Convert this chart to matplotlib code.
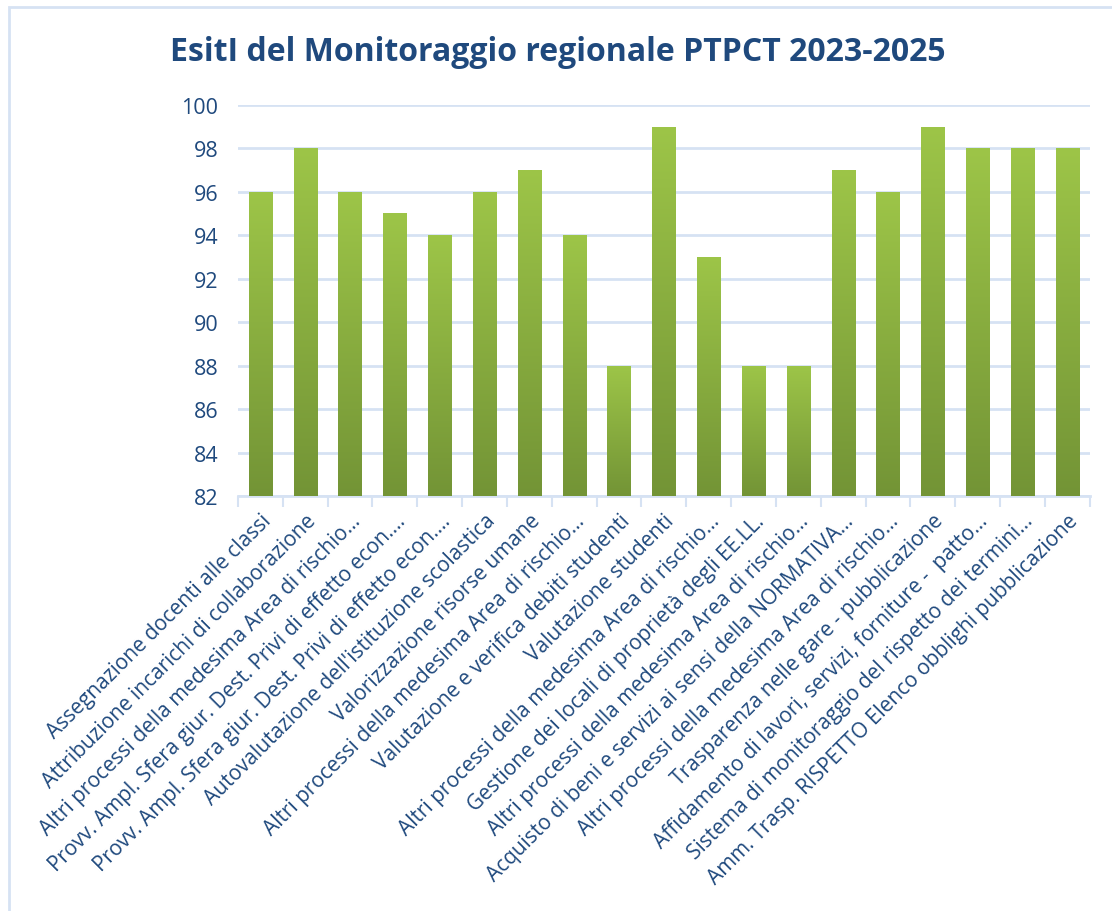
import matplotlib
matplotlib.use("Agg")
import matplotlib.pyplot as plt
import numpy as np
from matplotlib.colors import LinearSegmentedColormap
from matplotlib.patches import Rectangle

categories = [
    "Assegnazione docenti alle classi",
    "Attribuzione incarichi di collaborazione",
    "Altri processi della medesima Area di rischio…",
    "Provv. Ampl. Sfera giur. Dest. Privi di effetto econ.…",
    "Provv. Ampl. Sfera giur. Dest. Privi di effetto econ.…",
    "Autovalutazione dell'istituzione scolastica",
    "Valorizzazione risorse umane",
    "Altri processi della medesima Area di rischio…",
    "Valutazione e verifica debiti studenti",
    "Valutazione studenti",
    "Altri processi della medesima Area di rischio…",
    "Gestione dei locali di proprietà degli EE.LL.",
    "Altri processi della medesima Area di rischio…",
    "Acquisto di beni e servizi ai sensi della NORMATIVA…",
    "Altri processi della medesima Area di rischio…",
    "Trasparenza nelle gare - pubblicazione",
    "Affidamento di lavori, servizi, forniture -  patto…",
    "Sistema di monitoraggio del rispetto dei termini…",
    "Amm. Trasp. RISPETTO Elenco obblighi pubblicazione",
]
values = [96, 98, 96, 95, 94, 96, 97, 94, 88, 99, 93, 88, 88, 97, 96, 99, 98, 98, 98]
yticks = [82, 84, 86, 88, 90, 92, 94, 96, 98, 100]
title = "EsitI del Monitoraggio regionale PTPCT 2023-2025"

text_color = "#1F497D"
grid_color = "#D6E2F3"
font = "Open Sans"

fig = plt.figure(figsize=(11.12, 9.12), dpi=100)
ax = fig.add_axes([0.214, 0.455, 0.766, 0.429])

x = np.arange(len(values))
bars = ax.bar(x, [v - yticks[0] for v in values], bottom=yticks[0], width=0.52,
              color="#8AAE42", zorder=2)

cmap = LinearSegmentedColormap.from_list("g", ["#739436", "#9DC548"])
grad = np.linspace(0, 1, 256).reshape(-1, 1)
for b in bars:
    x0, y0 = b.get_x(), b.get_y()
    w, h = b.get_width(), b.get_height()
    im = ax.imshow(grad, cmap=cmap, aspect="auto", origin="lower",
                   extent=[x0, x0 + w, y0, y0 + h], zorder=3, interpolation="bilinear")
    im.set_clip_path(b)

ax.set_xlim(-0.5, len(values) - 0.5)
ax.set_ylim(yticks[0], yticks[-1])
ax.set_yticks(yticks)
ax.set_yticklabels([str(t) for t in yticks], fontsize=15.5, color=text_color, family=font)
ax.yaxis.grid(True, color=grid_color, linewidth=2, zorder=0)
ax.set_axisbelow(True)
ax.tick_params(axis="y", length=0, pad=14)

# category boundaries ticks
ax.set_xticks(np.arange(-0.5, len(values), 1.0), minor=True)
ax.tick_params(axis="x", which="minor", length=8, color=grid_color, width=1.5)
ax.set_xticks(x)
ax.set_xticklabels(categories, rotation=45, ha="right", rotation_mode="anchor",
                   fontsize=15, color=text_color, family=font)
ax.tick_params(axis="x", which="major", length=0, pad=10)

for s in ["top", "right", "left"]:
    ax.spines[s].set_visible(False)
ax.spines["bottom"].set_color(grid_color)
ax.spines["bottom"].set_linewidth(2)

fig.text(0.502, 0.942, title, ha="center", va="center", fontsize=23,
         fontweight="bold", color=text_color, family=font)

fig.patches.append(Rectangle((0.008, -0.02), 1.1, 1.011, transform=fig.transFigure,
                             fill=False, edgecolor="#D6E2F3", linewidth=2))

fig.savefig("out.png", dpi=100)
